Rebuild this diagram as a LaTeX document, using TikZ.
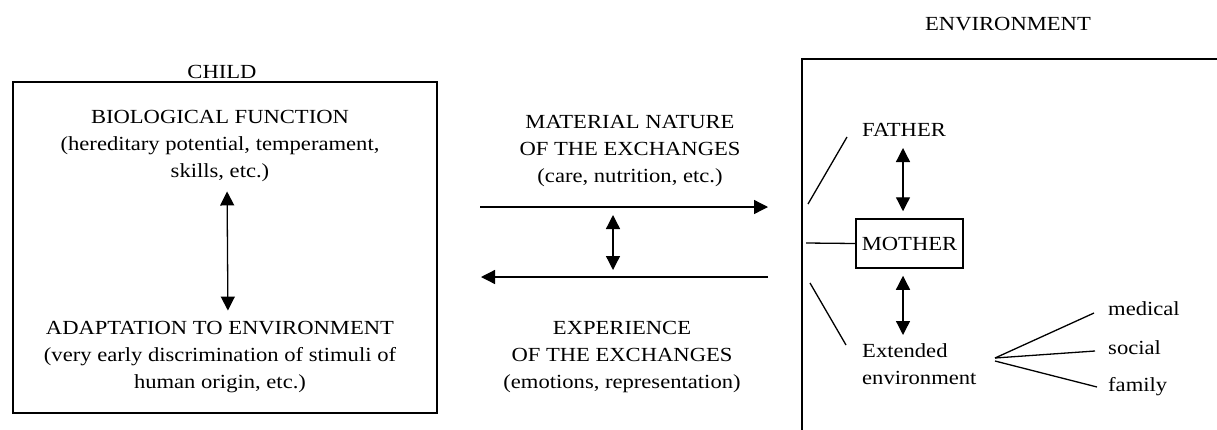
\documentclass[tikz,border=0pt]{standalone}
\usepackage{fontspec}
\setmainfont{Liberation Serif}[FakeStretch=1.13]
\usetikzlibrary{arrows.meta}
\begin{document}
\begin{tikzpicture}[x=1pt,y=-1pt,
  txt/.style={font=\fontsize{20}{27}\selectfont, inner sep=0pt, align=center},
  ltxt/.style={font=\fontsize{20}{27}\selectfont, inner sep=0pt, align=left},
  ln/.style={line width=1.3pt},
  dbl/.style={line width=1.3pt, {Triangle[length=14pt,width=14pt]}-{Triangle[length=14pt,width=14pt]}},
  sgl/.style={line width=1.3pt, -{Triangle[length=14pt,width=14pt]}},
  box/.style={draw, line width=1.5pt, inner sep=0pt}]
\useasboundingbox (0,0) rectangle (1217,429);
\clip (0,0) rectangle (1217,429);
% headings
\node[txt, anchor=base] (child) at (222,78) {CHILD};
\node[txt, anchor=base] (envt) at (1008,30) {ENVIRONMENT};
% boxes
\node[box, anchor=north west, minimum width=424pt, minimum height=331pt] (childbox) at (12,81) {};
\node[box, anchor=north west, minimum width=500pt, minimum height=420pt] (envbox) at (801,58) {};
% child contents
\node[txt, anchor=base] (bio) at (220,177) {BIOLOGICAL FUNCTION\\(hereditary potential, temperament,\\skills, etc.)};
\node[txt, anchor=base] (adapt) at (220,388) {ADAPTATION TO ENVIRONMENT\\(very early discrimination of stimuli of\\human origin, etc.)};
\draw[dbl, shorten <=10pt, shorten >=10pt] ([xshift=7pt]bio.south) -- ([xshift=8pt]adapt.north);
% exchanges
\node[txt, anchor=base] (mat) at (630,182) {MATERIAL NATURE\\OF THE EXCHANGES\\(care, nutrition, etc.)};
\node[txt, anchor=base] (exp) at (622,388) {EXPERIENCE\\OF THE EXCHANGES\\(emotions, representation)};
\coordinate (a1s) at (480,207);
\coordinate (a1e) at (768,207);
\coordinate (a2s) at (768,277);
\coordinate (a2e) at (481,277);
\draw[sgl] (a1s) -- (a1e);
\draw[sgl] (a2s) -- (a2e);
\coordinate (m1) at (613,215);
\coordinate (m2) at (613,270);
\draw[dbl] (m1) -- (m2);
% environment contents
\node[ltxt, anchor=base west] (father) at (862,136) {FATHER};
\node[box, minimum width=107pt, minimum height=49pt] (mother) at (909.5,243.5) {\fontsize{20}{27}\selectfont MOTHER};
\node[ltxt, anchor=base west] (ext) at (862,384) {Extended\\environment};
\draw[dbl, shorten >=7pt] ([xshift=-6.5pt]mother.north |- 0,148) -- ([xshift=-6.5pt]mother.north);
\draw[dbl, shorten <=7pt] ([xshift=-6.5pt]mother.south) -- ([xshift=-6.5pt]mother.south |- 0,335);
\coordinate (f1) at (808,204);
\coordinate (f2) at (847,137);
\draw[ln] (f1) -- (f2);
\coordinate (mo1) at (806,243);
\draw[ln] (mo1) -- (mother.west);
\coordinate (e1) at (810,283);
\coordinate (e2) at (846,345);
\draw[ln] (e1) -- (e2);
\node[ltxt, anchor=base west] (med) at (1108,315) {medical};
\node[ltxt, anchor=base west] (soc) at (1108,354) {social};
\node[ltxt, anchor=base west] (fam) at (1108,391) {family};
\coordinate (fan) at (995,358);
\coordinate (fanb) at (995,361);
\coordinate (tmed) at (1094,313);
\coordinate (tsoc) at (1095,351);
\coordinate (tfam) at (1097,387);
\draw[ln] (fan) -- (tmed);
\draw[ln] (fan) -- (tsoc);
\draw[ln] (fanb) -- (tfam);
\end{tikzpicture}
\end{document}
